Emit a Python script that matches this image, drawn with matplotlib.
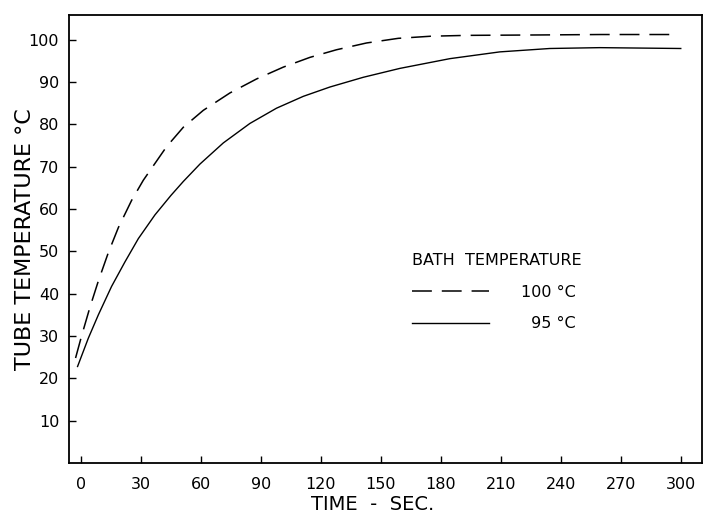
import matplotlib
matplotlib.use("Agg")
import matplotlib.pyplot as plt

# Data (time in s, temperature in deg C)
time_100 = [-2.7, 0.3, 4.5, 8.7, 13.7, 18.7, 25.3, 31.2, 42.8, 51.2, 61.2, 74.5, 87.8,
            101.2, 114.5, 127.8, 142.8, 158.7, 175, 193, 230, 260, 298]
temp_100 = [24.8, 30.0, 36.8, 43.0, 49.7, 55.6, 62.0, 66.8, 74.7, 79.3, 83.3, 87.4, 90.7,
            93.5, 95.8, 97.6, 99.2, 100.3, 100.8, 101.0, 101.1, 101.2, 101.2]

time_95 = [-1.7, 3.7, 8.7, 15.3, 22, 28.7, 37, 45, 51.2, 59.5, 71.2, 84.5, 97.8, 111.2,
           124.5, 141.2, 159.5, 184.5, 209.5, 234.5, 259.5, 300]
temp_95 = [22.8, 29.5, 35.0, 41.7, 47.5, 53.0, 58.6, 63.2, 66.5, 70.6, 75.6, 80.2, 83.8, 86.6,
           88.8, 91.1, 93.2, 95.5, 97.1, 97.9, 98.1, 97.9]

x_ticks = [0, 30, 60, 90, 120, 150, 180, 210, 240, 270, 300]
y_ticks = [10, 20, 30, 40, 50, 60, 70, 80, 90, 100]
labels = ["100 °C", "\u200795 °C"]

plt.rcParams['font.family'] = ['DejaVu Sans']

fig = plt.figure(figsize=(7.11, 5.17), dpi=100)
ax = fig.add_axes([0.097, 0.1044, 0.890, 0.8665])

ax.plot(time_100, temp_100, color='black', lw=1.1, linestyle=(0, (13, 6.5)), label=labels[0])
ax.plot(time_95, temp_95, color='black', lw=1.0, linestyle='-', label=labels[1])

ax.set_xlim(-6, 310.5)
ax.set_ylim(0, 105.8)
ax.set_xticks(x_ticks)
ax.set_yticks(y_ticks)
ax.tick_params(axis='x', direction='in', length=5, width=1, labelsize=11.5, pad=10)
ax.tick_params(axis='y', direction='in', length=5, width=1, labelsize=11.5, pad=7)
for s in ax.spines.values():
    s.set_linewidth(1.3)

ax.set_xlabel("TIME  -  SEC.", fontsize=14)
ax.xaxis.set_label_coords(0.48, -0.072)
ax.set_ylabel("TUBE TEMPERATURE °C", fontsize=16)
ax.yaxis.set_label_coords(-0.054, 0.5)

leg = ax.legend(title="BATH  TEMPERATURE", loc='upper left', bbox_to_anchor=(0.542, 0.469),
                frameon=False, fontsize=11.5, title_fontsize=11.5, handlelength=4.8,
                handletextpad=2.0, borderpad=0, borderaxespad=0, labelspacing=1.05)
leg._legend_box.align = "left"

fig.savefig("out.png", dpi=100)
